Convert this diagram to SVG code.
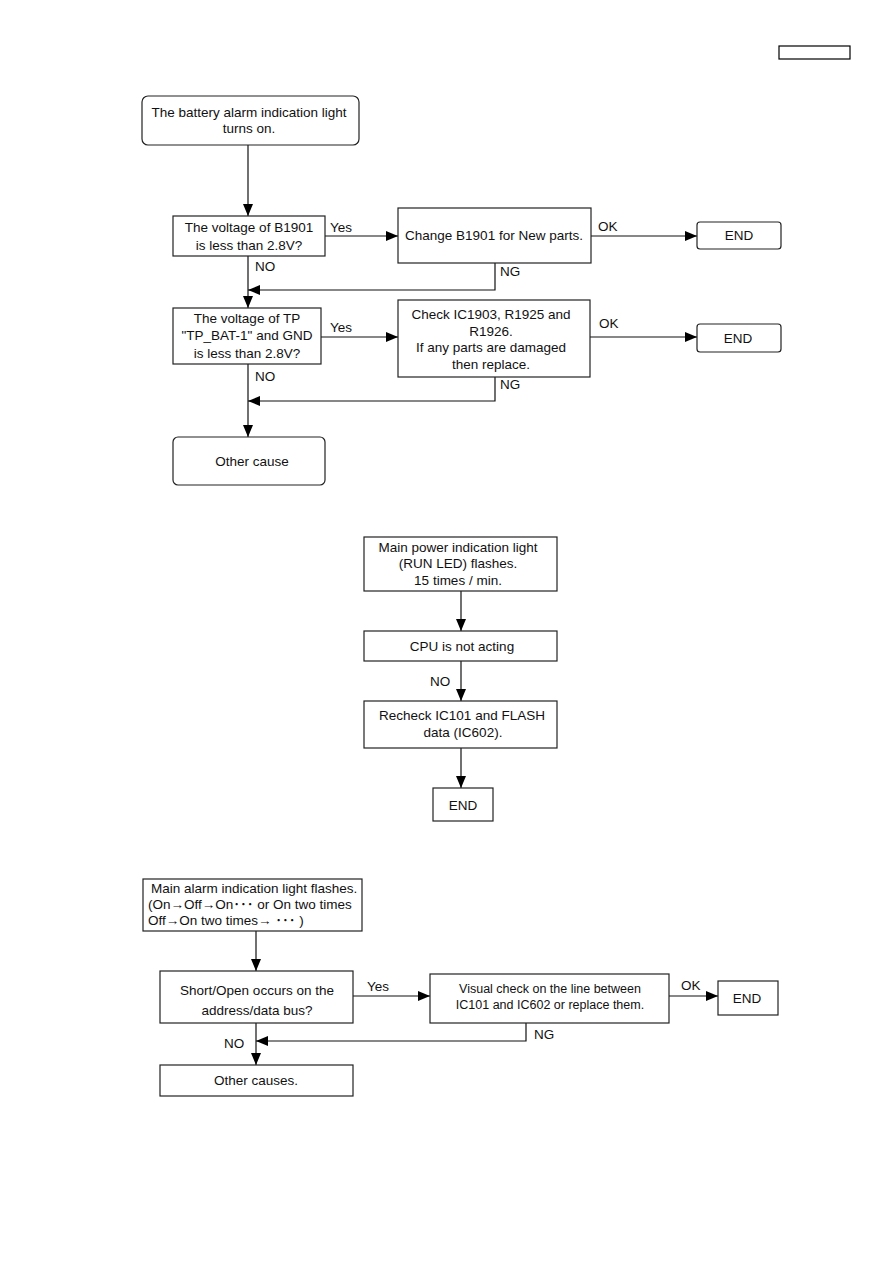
<svg xmlns="http://www.w3.org/2000/svg" width="893" height="1263" viewBox="0 0 893 1263">
<defs>
<marker id="arr" markerWidth="12" markerHeight="10" refX="12" refY="5" orient="auto" markerUnits="userSpaceOnUse">
<path d="M0,0 L12,5 L0,10 Z" fill="#000"/>
</marker>
<style>
.box{fill:#fff;stroke:#222;stroke-width:1.2}
.t{font-family:"Liberation Sans",Arial,"Noto Sans CJK JP",sans-serif;font-size:13.5px;fill:#111;text-anchor:middle}
.l{font-family:"Liberation Sans",Arial,"Noto Sans CJK JP",sans-serif;font-size:13.5px;fill:#111}
.c{fill:none;stroke:#111;stroke-width:1.2}
.ca{fill:none;stroke:#111;stroke-width:1.2;marker-end:url(#arr)}
</style>
</defs>
<rect x="779" y="46" width="71" height="13" fill="#fff" stroke="#000" stroke-width="1.2"/>

<g id="connectors">
<path class="ca" d="M248,145 V216"/>
<path class="ca" d="M325,236 H398"/>
<path class="ca" d="M591,236 H697"/>
<path class="ca" d="M495,263 V290 H248"/>
<path class="ca" d="M248,256 V308"/>
<path class="ca" d="M321,337 H398"/>
<path class="ca" d="M590,337 H697"/>
<path class="ca" d="M495,377 V401 H248"/>
<path class="ca" d="M248,364 V437"/>
<path class="ca" d="M461,591 V631"/>
<path class="ca" d="M461,661 V701"/>
<path class="ca" d="M461,748 V788"/>
<path class="ca" d="M256,931 V971"/>
<path class="ca" d="M353,996 H430"/>
<path class="ca" d="M669,996 H718"/>
<path class="ca" d="M526,1023 V1041 H256"/>
<path class="ca" d="M256,1023 V1065"/>
<text class="l" x="330" y="232">Yes</text>
<text class="l" x="598" y="231">OK</text>
<text class="l" x="500" y="276">NG</text>
<text class="l" x="255" y="271">NO</text>
<text class="l" x="330" y="332">Yes</text>
<text class="l" x="599" y="328">OK</text>
<text class="l" x="500" y="389">NG</text>
<text class="l" x="255" y="381">NO</text>
<text class="l" x="430" y="686">NO</text>
<text class="l" x="367" y="991">Yes</text>
<text class="l" x="681" y="990">OK</text>
<text class="l" x="534" y="1039">NG</text>
<text class="l" x="224" y="1048">NO</text>
</g>

<g id="n1"><rect class="box" x="142" y="96" width="217" height="49" rx="6"/>
<text class="t" x="249" y="117">The battery alarm indication light</text>
<text class="t" x="249" y="133">turns on.</text></g>
<g id="n2"><rect class="box" x="173" y="216" width="152" height="40"/>
<text class="t" x="249" y="232">The voltage of B1901</text>
<text class="t" x="249" y="250">is less than 2.8V?</text></g>
<g id="n3"><rect class="box" x="398" y="208" width="193" height="55"/>
<text class="t" x="494" y="240">Change B1901 for New parts.</text></g>
<g id="n4"><rect class="box" x="697" y="222" width="84" height="27" rx="3"/>
<text class="t" x="739" y="240">END</text></g>
<g id="n5"><rect class="box" x="173" y="308" width="148" height="56"/>
<text class="t" x="247" y="323">The voltage of TP</text>
<text class="t" x="247" y="340">"TP_BAT-1" and GND</text>
<text class="t" x="247" y="358">is less than 2.8V?</text></g>
<g id="n6"><rect class="box" x="398" y="300" width="192" height="77"/>
<text class="t" x="491" y="319">Check IC1903, R1925 and</text>
<text class="t" x="491" y="336">R1926.</text>
<text class="t" x="491" y="352">If any parts are damaged</text>
<text class="t" x="491" y="369">then replace.</text></g>
<g id="n7"><rect class="box" x="697" y="324" width="84" height="28" rx="3"/>
<text class="t" x="738" y="343">END</text></g>
<g id="n8"><rect class="box" x="173" y="437" width="152" height="48" rx="5"/>
<text class="t" x="252" y="466">Other cause</text></g>

<g id="n9"><rect class="box" x="364" y="537" width="193" height="54"/>
<text class="t" x="458" y="552">Main power indication light</text>
<text class="t" x="458" y="568">(RUN LED) flashes.</text>
<text class="t" x="458" y="585">15 times / min.</text></g>
<g id="n10"><rect class="box" x="364" y="631" width="193" height="30"/>
<text class="t" x="462" y="651">CPU is not acting</text></g>
<g id="n11"><rect class="box" x="364" y="701" width="193" height="47"/>
<text class="t" x="462" y="720">Recheck IC101 and FLASH</text>
<text class="t" x="463" y="737">data (IC602).</text></g>
<g id="n12"><rect class="box" x="433" y="788" width="60" height="33"/>
<text class="t" x="463" y="810">END</text></g>

<g id="n13"><rect class="box" x="143" y="879" width="219" height="52"/>
<text class="l" x="151" y="893">Main alarm indication light flashes.</text>
<text class="l" x="148" y="909">(On→Off→On･･･ or On two times</text>
<text class="l" x="148" y="925">Off→On two times→ ･･･ )</text></g>
<g id="n14"><rect class="box" x="160" y="971" width="193" height="52"/>
<text class="t" x="257" y="995">Short/Open occurs on the</text>
<text class="t" x="257" y="1015">address/data bus?</text></g>
<g id="n15"><rect class="box" x="430" y="974" width="239" height="49"/>
<text class="t" x="550" y="993" style="font-size:12.5px">Visual check on the line between</text>
<text class="t" x="550" y="1009" style="font-size:12.5px">IC101 and IC602 or replace them.</text></g>
<g id="n16"><rect class="box" x="718" y="981" width="60" height="34"/>
<text class="t" x="747" y="1003">END</text></g>
<g id="n17"><rect class="box" x="160" y="1065" width="193" height="31"/>
<text class="t" x="256" y="1085">Other causes.</text></g>
</svg>
